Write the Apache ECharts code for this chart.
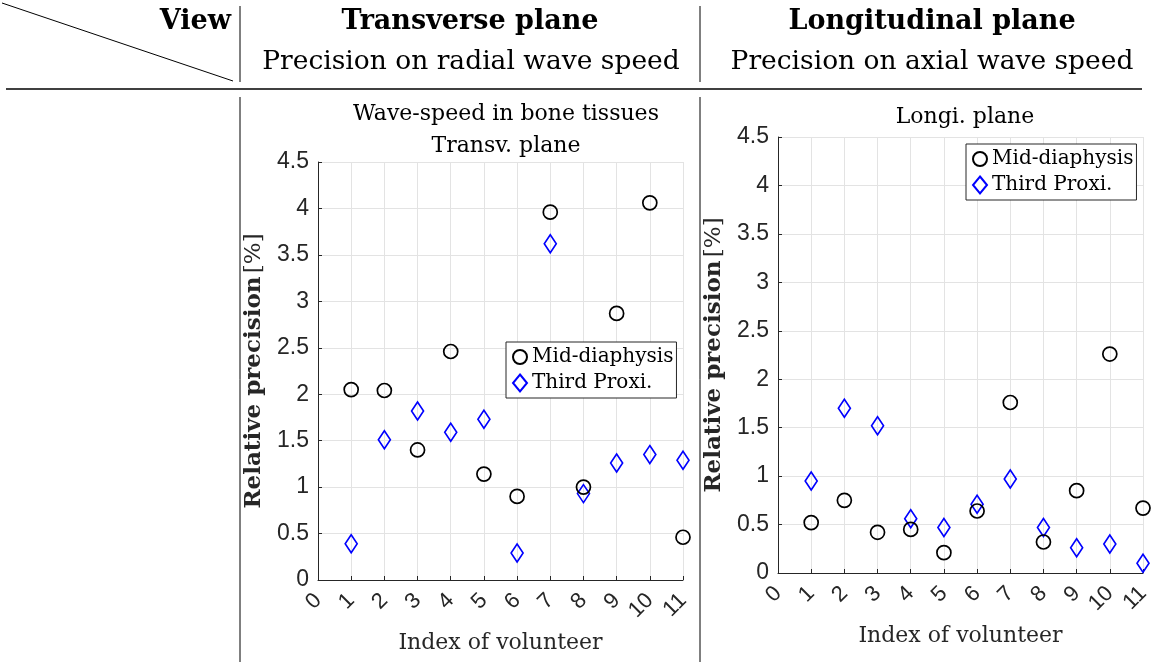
<!DOCTYPE html>
<html>
<head>
<meta charset="UTF-8">
<title>Relative precision</title>
<style>
body{margin:0;background:#fff;}
#main{width:1160px;height:664px;}
</style>
</head>
<body>
<div id="main"></div>
<script src="https://cdn.jsdelivr.net/npm/echarts@6/dist/echarts.min.js"></script>
<script>
// volunteers 1..11
var volunteers = [1, 2, 3, 4, 5, 6, 7, 8, 9, 10, 11];
var xTicks = [0, 1, 2, 3, 4, 5, 6, 7, 8, 9, 10, 11];
var yTicks = [0, 0.5, 1, 1.5, 2, 2.5, 3, 3.5, 4, 4.5];

// transverse plane
var transMid   = [2.05, 2.04, 1.40, 2.46, 1.14, 0.90, 3.96, 1.00, 2.87, 4.06, 0.46];
var transThird = [0.39, 1.51, 1.82, 1.59, 1.73, 0.29, 3.62, 0.93, 1.26, 1.35, 1.29];
// longitudinal plane
var longMid   = [0.52, 0.75, 0.42, 0.45, 0.21, 0.64, 1.76, 0.32, 0.85, 2.26, 0.67];
var longThird = [0.95, 1.70, 1.52, 0.56, 0.47, 0.71, 0.97, 0.47, 0.26, 0.30, 0.10];

var serif = 'DejaVu Serif';
var sans = 'Liberation Sans';

function pairs(ys){
	var out = [];
	for (var i = 0; i < volunteers.length; i++) out.push([volunteers[i], ys[i]]);
	return out;
}

function xAxisOf(idx){
	return {
		type:'value', gridIndex:idx, min:xTicks[0], max:xTicks[xTicks.length - 1], interval:1,
		name:'Index of volunteer', nameLocation:'middle', nameGap:52,
		nameTextStyle:{fontFamily:serif, fontSize:22, color:'#262626'},
		axisLine:{lineStyle:{color:'#262626', width:1}},
		axisTick:{inside:true, length:4, lineStyle:{color:'#262626'}},
		axisLabel:{rotate:45, fontFamily:sans, fontSize:22, color:'#262626', margin:17},
		splitLine:{show:true, lineStyle:{color:'#e3e3e3', width:1}}
	};
}
function yAxisOf(idx){
	return {
		type:'value', gridIndex:idx, min:yTicks[0], max:yTicks[yTicks.length - 1], interval:0.5,
		name:'{b|Relative precision} {n|[%]}', nameLocation:'middle', nameGap:52,
		nameTextStyle:{rich:{
			b:{fontFamily:serif, fontSize:23, fontWeight:'bold', color:'#262626'},
			n:{fontFamily:serif, fontSize:23, color:'#262626'}
		}},
		axisLine:{show:true, lineStyle:{color:'#262626', width:1}},
		axisTick:{show:true, inside:true, length:4, lineStyle:{color:'#262626'}},
		axisLabel:{fontFamily:sans, fontSize:23, color:'#262626', margin:9,
			formatter:function(v){ return String(v); }},
		splitLine:{show:true, lineStyle:{color:'#e3e3e3', width:1}}
	};
}
function circ(idx, ys){
	return {
		name:'Mid-diaphysis', type:'scatter', xAxisIndex:idx, yAxisIndex:idx,
		data:pairs(ys), symbol:'circle', symbolSize:14, z:3,
		itemStyle:{color:'rgba(0,0,0,0)', borderColor:'#000', borderWidth:1.7, opacity:1}
	};
}
function diam(idx, ys){
	return {
		name:'Third Proxi.', type:'scatter', xAxisIndex:idx, yAxisIndex:idx,
		data:pairs(ys), symbol:'diamond', symbolSize:[12, 18], z:2,
		itemStyle:{color:'rgba(0,0,0,0)', borderColor:'#0000ff', borderWidth:1.7, opacity:1}
	};
}
function legendAt(left, top){
	return {
		orient:'vertical', left:left, top:top,
		data:['Mid-diaphysis', 'Third Proxi.'],
		borderColor:'#262626', borderWidth:1, backgroundColor:'#fff',
		padding:[5, 3, 5, 6], itemGap:6, itemWidth:14, itemHeight:17,
		textStyle:{fontFamily:serif, fontSize:20, color:'#000'},
		selectedMode:false
	};
}

var myChart = echarts.init(document.getElementById('main'));
myChart.setOption({
	animation:false,
	title:[
		{text:'Wave-speed in bone tissues\nTransv. plane', left:501, top:93, textAlign:'center',
			textStyle:{fontFamily:serif, fontSize:22, fontWeight:'normal', color:'#000', lineHeight:32}},
		{text:'Longi. plane', left:960, top:101, textAlign:'center',
			textStyle:{fontFamily:serif, fontSize:22, fontWeight:'normal', color:'#000'}}
	],
	grid:[
		{left:318, top:162, width:365, height:418},
		{left:778, top:137, width:365, height:436}
	],
	xAxis:[xAxisOf(0), xAxisOf(1)],
	yAxis:[yAxisOf(0), yAxisOf(1)],
	legend:[legendAt(506, 342), legendAt(966, 144)],
	series:[circ(0, transMid), diam(0, transThird), circ(1, longMid), diam(1, longThird)],
	graphic:[
		{type:'line', shape:{x1:2, y1:3, x2:233, y2:81}, style:{stroke:'#000', lineWidth:1}},
		{type:'line', shape:{x1:240, y1:6, x2:240, y2:82}, style:{stroke:'#000', lineWidth:1}},
		{type:'line', shape:{x1:700, y1:6, x2:700, y2:82}, style:{stroke:'#000', lineWidth:1}},
		{type:'line', shape:{x1:6, y1:89, x2:1142, y2:89}, style:{stroke:'#000', lineWidth:1.5}},
		{type:'line', shape:{x1:240, y1:97, x2:240, y2:662}, style:{stroke:'#000', lineWidth:1}},
		{type:'line', shape:{x1:700, y1:97, x2:700, y2:662}, style:{stroke:'#000', lineWidth:1}},
		{type:'text', x:231, y:22, style:{text:'View', align:'right', verticalAlign:'middle',
			font:'bold 27px "DejaVu Serif"', fill:'#000'}},
		{type:'text', x:470, y:22, style:{text:'Transverse plane', align:'center', verticalAlign:'middle',
			font:'bold 27px "DejaVu Serif"', fill:'#000'}},
		{type:'text', x:471, y:62, style:{text:'Precision on radial wave speed', align:'center', verticalAlign:'middle',
			font:'26.5px "DejaVu Serif"', fill:'#000'}},
		{type:'text', x:932, y:22, style:{text:'Longitudinal plane', align:'center', verticalAlign:'middle',
			font:'bold 27px "DejaVu Serif"', fill:'#000'}},
		{type:'text', x:932, y:62, style:{text:'Precision on axial wave speed', align:'center', verticalAlign:'middle',
			font:'26.5px "DejaVu Serif"', fill:'#000'}}
	]
});
</script>
</body>
</html>
